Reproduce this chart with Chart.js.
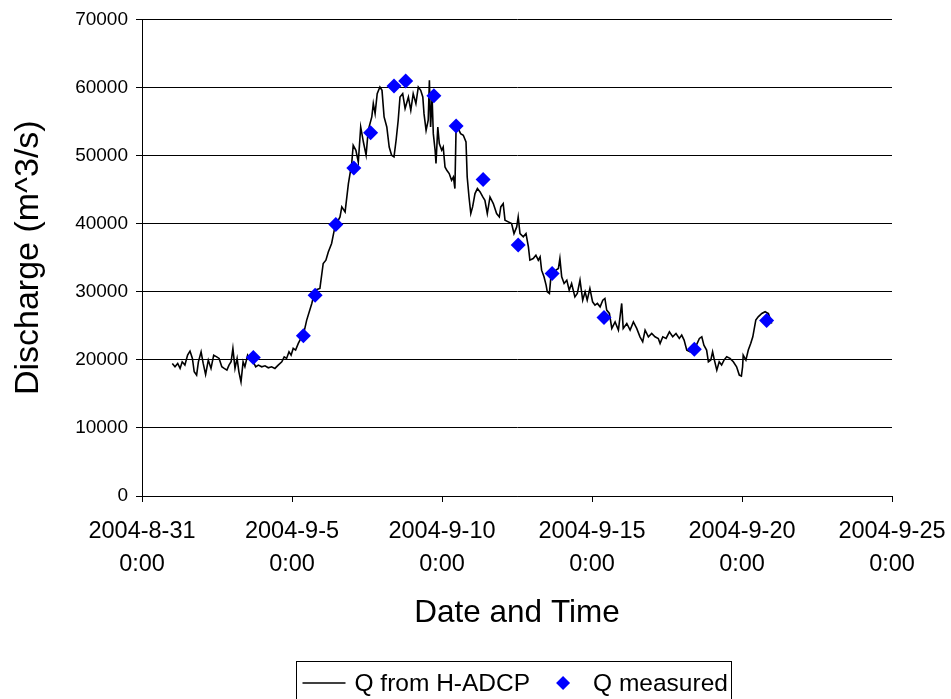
<!DOCTYPE html>
<html>
<head>
<meta charset="utf-8">
<title>Discharge</title>
<script src="https://cdn.jsdelivr.net/npm/chart.js@4.4.0/dist/chart.umd.min.js"></script>
<style>
    body { margin: 0; background: #fff; }
    canvas { display: block; }
</style>
</head>
<body>
<canvas id="canvas" width="951" height="699"></canvas>
<script>
// time is in days after 2004-8-31 0:00
var lineDays = [
    1.01, 1.10, 1.19, 1.27, 1.34, 1.43, 1.52, 1.60, 1.68, 1.74,
    1.82, 1.88, 1.97, 2.04, 2.12, 2.21, 2.30, 2.39, 2.49, 2.57,
    2.66, 2.74, 2.83, 2.90, 2.97, 3.03, 3.10, 3.17, 3.23, 3.30,
    3.37, 3.43, 3.52, 3.61, 3.71, 3.79, 3.88, 3.99, 4.10, 4.21,
    4.32, 4.43, 4.54, 4.66, 4.74, 4.82, 4.90, 4.97, 5.04, 5.12,
    5.21, 5.30, 5.38, 5.49, 5.66, 5.77, 5.93, 6.04, 6.13, 6.21,
    6.32, 6.43, 6.60, 6.66, 6.77, 6.88, 6.99, 7.04, 7.13, 7.21,
    7.29, 7.38, 7.47, 7.54, 7.66, 7.71, 7.77, 7.84, 7.93, 8.00,
    8.07, 8.16, 8.24, 8.32, 8.40, 8.47, 8.54, 8.60, 8.69, 8.77,
    8.88, 8.96, 9.04, 9.13, 9.21, 9.29, 9.36, 9.40, 9.47, 9.54,
    9.58, 9.62, 9.67, 9.71, 9.77, 9.80, 9.86, 9.91, 9.99, 10.04,
    10.10, 10.16, 10.24, 10.32, 10.38, 10.43, 10.47, 10.54, 10.62, 10.71,
    10.80, 10.84, 10.90, 10.96, 11.02, 11.10, 11.18, 11.27, 11.36, 11.43,
    11.51, 11.60, 11.71, 11.82, 11.91, 11.96, 12.04, 12.10, 12.21, 12.32,
    12.40, 12.49, 12.54, 12.60, 12.71, 12.80, 12.88, 12.93, 13.04, 13.13,
    13.21, 13.27, 13.32, 13.40, 13.47, 13.51, 13.58, 13.63, 13.71, 13.80,
    13.88, 13.93, 13.99, 14.07, 14.16, 14.24, 14.32, 14.43, 14.51, 14.60,
    14.69, 14.77, 14.84, 14.93, 15.02, 15.10, 15.18, 15.27, 15.36, 15.43,
    15.49, 15.58, 15.66, 15.77, 15.88, 15.99, 16.04, 16.16, 16.27, 16.38,
    16.49, 16.60, 16.69, 16.77, 16.88, 16.99, 17.10, 17.21, 17.27, 17.36,
    17.47, 17.58, 17.69, 17.80, 17.91, 17.99, 18.07, 18.16, 18.27, 18.43,
    18.58, 18.66, 18.73, 18.82, 18.88, 18.96, 19.02, 19.08, 19.16, 19.24,
    19.32, 19.40, 19.49, 19.60, 19.71, 19.82, 19.91, 19.98, 20.02, 20.04,
    20.13, 20.21, 20.29, 20.36, 20.40, 20.46, 20.54, 20.66, 20.77, 20.88,
    20.99
];
var lineQ = [
    19470, 18980, 19470, 18740, 19710, 19230, 20690, 21280, 20210, 18240,
    17760, 19710, 21180, 19470, 17860, 19960, 18740, 20690, 20440, 20210,
    18980, 18740, 18490, 19230, 19710, 21680, 18740, 20210, 18240, 16770,
    19710, 18980, 20690, 19960, 19710, 18980, 19230, 18980, 19120, 18830,
    18980, 18740, 19230, 19710, 20440, 20210, 21180, 20690, 21680, 21430,
    22410, 23200, 23700, 25830, 28280, 30230, 30480, 34150, 34640, 35850,
    37090, 39520, 40990, 42460, 41720, 45890, 48830, 51510, 50780, 49060,
    54200, 51990, 50050, 53710, 55670, 57630, 56160, 59100, 60070, 59580,
    55670, 54200, 51260, 50050, 49800, 52250, 55190, 58600, 59100, 56900,
    58600, 56650, 59100, 57630, 60070, 59580, 58600, 56160, 53710, 55190,
    61050, 54200, 58600, 53220, 50780, 48830, 54200, 51760, 50780, 51260,
    48330, 47840, 47360, 46380, 46860, 45150, 54200, 53960, 53220, 52980,
    51990, 46860, 43920, 41490, 42460, 44420, 45150, 44660, 43920, 43440,
    41490, 43920, 42950, 41490, 40990, 42460, 42950, 40510, 40260, 40020,
    38550, 39520, 40990, 38550, 38060, 38550, 36590, 34640, 34880, 35370,
    34640, 35120, 33170, 32190, 30970, 29980, 29750, 32190, 32680, 33170,
    33420, 34880, 32190, 31210, 31700, 30230, 31210, 29250, 29750, 31700,
    28760, 29980, 28760, 30480, 28520, 28030, 28280, 27780, 28760, 29010,
    27300, 26810, 24610, 25580, 24360, 28280, 24610, 25340, 24360, 25580,
    24610, 23380, 22650, 24360, 23380, 23870, 23380, 23140, 22410, 23380,
    23140, 24110, 23380, 23870, 23140, 23630, 22890, 21430, 21180, 21680,
    23140, 23380, 22160, 21430, 19710, 19960, 21180, 19960, 18490, 19710,
    19230, 19960, 20440, 20210, 19710, 18980, 17760, 17610, 18980, 20690,
    19960, 21430, 22410, 23380, 24360, 25830, 26310, 26810, 27060, 26810,
    25340
];
var measuredDays = [3.71, 5.38, 5.77, 6.46, 7.06, 7.62, 8.40, 8.79, 9.73, 10.47, 11.37, 12.54, 13.67, 15.40, 18.41, 20.82];
var measuredQ = [20350, 23530, 29500, 39870, 48180, 53370, 60220, 60950, 58800, 54350, 46480, 36880, 32680, 26230, 21570, 25790];

var xTickLabels = [
    ['2004-8-31', '0:00'],
    ['2004-9-5', '0:00'],
    ['2004-9-10', '0:00'],
    ['2004-9-15', '0:00'],
    ['2004-9-20', '0:00'],
    ['2004-9-25', '0:00']
];
var seriesNames = ['Q from H-ADCP', 'Q measured'];

var FONT = '"Liberation Sans", Arial, sans-serif';

function pairs(xs, ys) {
    return xs.map(function (x, i) { return {x: x, y: ys[i]}; });
}

// legend in a frame, line sample + diamond like the original
var boxLegend = {
    id: 'boxLegend',
    afterDraw: function (chart) {
        var ctx = chart.ctx;
        var area = chart.chartArea;
        var lineSet = chart.data.datasets[0];
        var dotSet = chart.data.datasets[1];
        ctx.save();
        ctx.font = '24.5px ' + FONT;
        var w1 = ctx.measureText(lineSet.label).width;
        var w2 = ctx.measureText(dotSet.label).width;
        var width = 6 + 43 + 9 + w1 + 26 + 14 + 23 + w2 + 4;
        var left = Math.round((area.left + area.right) / 2 - width / 2) - 2.5;
        var top = chart.height - 38 + 0.5;
        var cy = top + 21.5;

        ctx.strokeStyle = '#000';
        ctx.lineWidth = 1;
        ctx.strokeRect(left, top, Math.round(width), 60);

        var x = left + 6;
        ctx.beginPath();
        ctx.strokeStyle = lineSet.borderColor;
        ctx.lineWidth = lineSet.borderWidth;
        ctx.moveTo(x, cy);
        ctx.lineTo(x + 43, cy);
        ctx.stroke();
        x += 43 + 9;

        ctx.fillStyle = '#000';
        ctx.textBaseline = 'middle';
        ctx.fillText(lineSet.label, x, cy + 1);
        x += w1 + 26;

        ctx.fillStyle = dotSet.backgroundColor;
        ctx.beginPath();
        ctx.moveTo(x, cy);
        ctx.lineTo(x + 7, cy - 7);
        ctx.lineTo(x + 14, cy);
        ctx.lineTo(x + 7, cy + 7);
        ctx.closePath();
        ctx.fill();
        x += 14 + 23;

        ctx.fillStyle = '#000';
        ctx.fillText(dotSet.label, x, cy + 1);
        ctx.restore();
    }
};

var config = {
    type: 'scatter',
    data: {
        datasets: [{
            label: seriesNames[0],
            data: pairs(lineDays, lineQ),
            showLine: true,
            borderColor: '#000000',
            borderWidth: 1.6,
            pointRadius: 0,
            tension: 0,
            order: 1
        }, {
            label: seriesNames[1],
            data: pairs(measuredDays, measuredQ),
            showLine: false,
            backgroundColor: '#0000ff',
            borderWidth: 0,
            pointStyle: 'rectRot',
            pointRadius: 7.5,
            order: 0
        }]
    },
    options: {
        responsive: false,
        animation: false,
        layout: {
            padding: {left: 0, right: 59, top: 19, bottom: 38}
        },
        plugins: {
            legend: {display: false},
            tooltip: {enabled: false}
        },
        scales: {
            x: {
                type: 'linear',
                min: 0,
                max: 25,
                afterFit: function (scale) {
                    scale.height = 165;
                    scale.paddingLeft = 0;
                    scale.paddingRight = 0;
                },
                ticks: {
                    stepSize: 5,
                    color: '#000',
                    padding: 13,
                    maxRotation: 0,
                    font: {family: FONT, size: 23.5, lineHeight: 1.4},
                    callback: function (value) { return xTickLabels[Math.round(value / 5)]; }
                },
                grid: {
                    drawOnChartArea: false,
                    drawTicks: true,
                    tickLength: 6,
                    color: '#000'
                },
                border: {display: true, color: '#000', width: 1},
                title: {
                    display: true,
                    text: 'Date and Time',
                    color: '#000',
                    font: {family: FONT, size: 31.5, lineHeight: 1.2},
                    padding: {top: 0, bottom: 29}
                }
            },
            y: {
                min: 0,
                max: 70000,
                afterFit: function (scale) { scale.width = 142; },
                ticks: {
                    stepSize: 10000,
                    color: '#000',
                    padding: 8,
                    font: {family: FONT, size: 19},
                    callback: function (value) { return String(value); }
                },
                grid: {
                    color: '#000',
                    lineWidth: 1,
                    tickLength: 6
                },
                border: {display: true, color: '#000', width: 1},
                title: {
                    display: true,
                    text: 'Discharge (m^3/s)',
                    color: '#000',
                    font: {family: FONT, size: 34, lineHeight: 1.2},
                    padding: {top: 8, bottom: 0}
                }
            }
        }
    },
    plugins: [boxLegend]
};

window.onload = function () {
    window.myChart = new Chart(document.getElementById('canvas'), config);
};
</script>
</body>
</html>
